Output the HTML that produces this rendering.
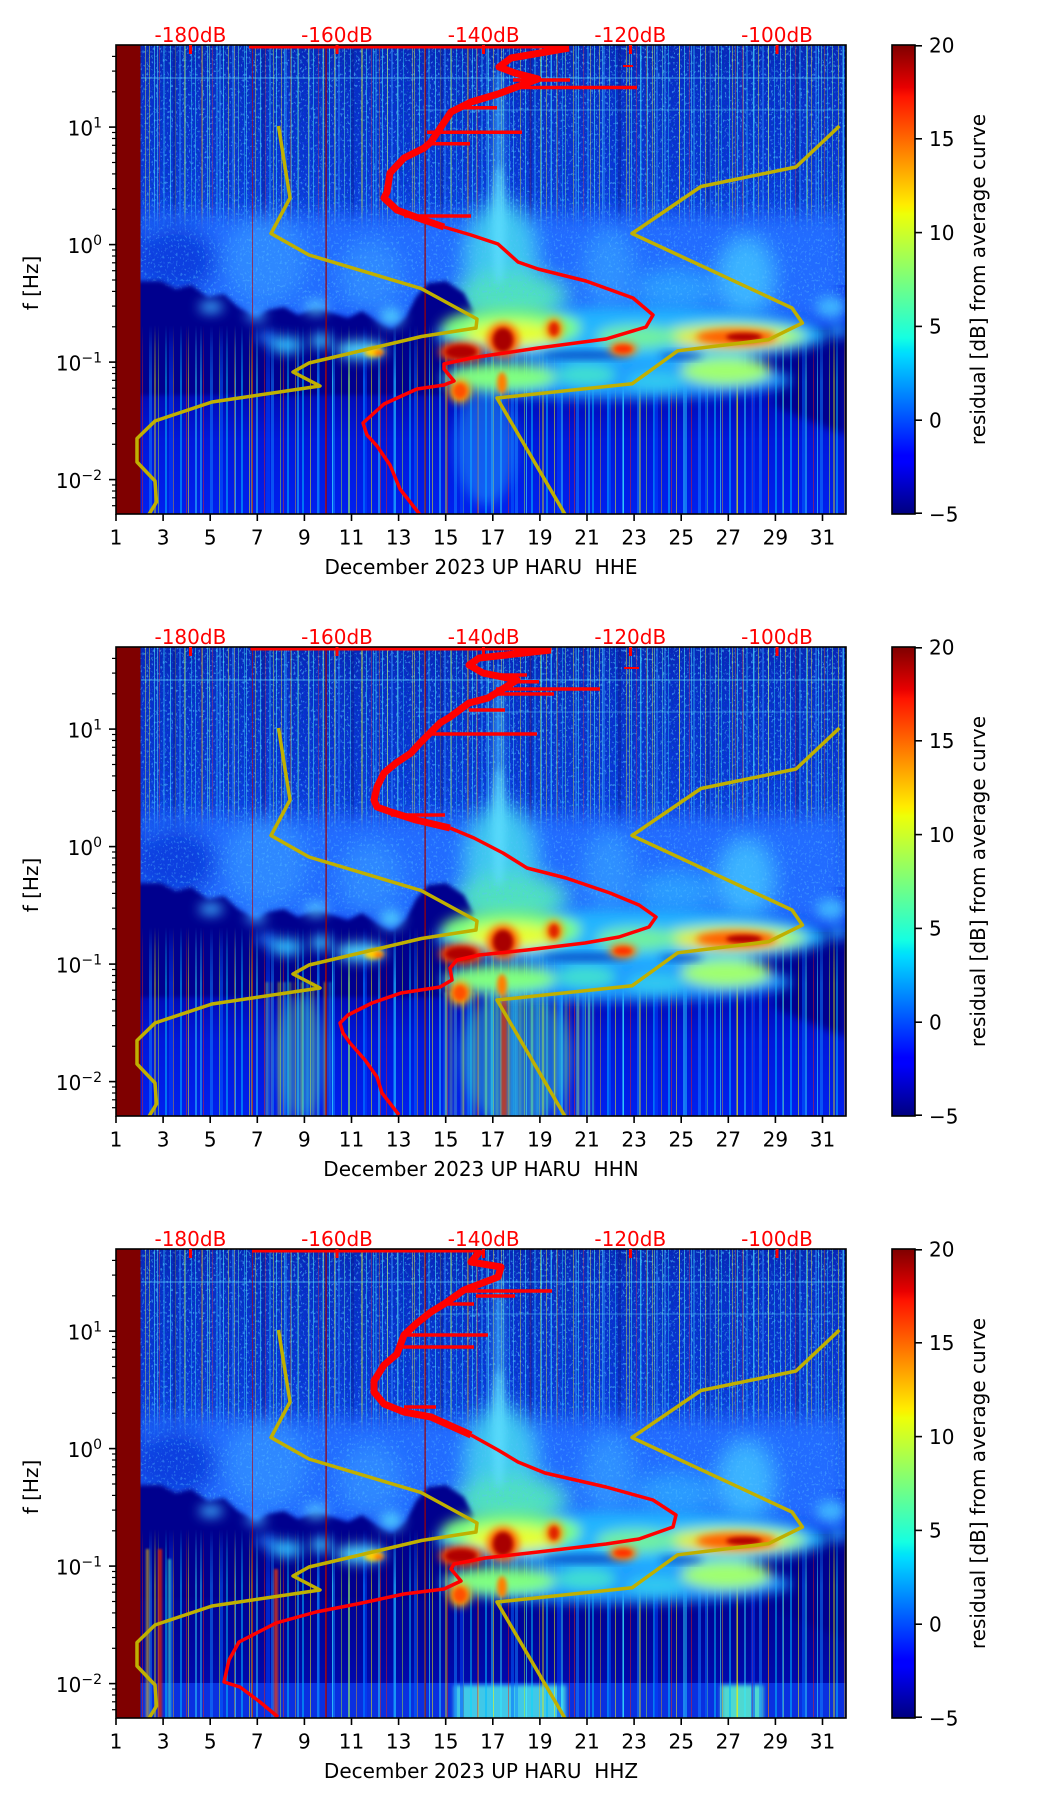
<!DOCTYPE html>
<html><head><meta charset="utf-8"><style>
html,body{margin:0;padding:0;background:#fff;}
svg{display:block;}
text{font-family:"DejaVu Sans","Liberation Sans",sans-serif;font-size:20px;}
</style></head><body>
<svg width="1052" height="1806" viewBox="0 0 1052 1806" xmlns="http://www.w3.org/2000/svg" xmlns:xlink="http://www.w3.org/1999/xlink">
<defs>
 <clipPath id="clip"><rect width="730" height="469"/></clipPath>
 <filter id="b1" x="-50%" y="-50%" width="200%" height="200%"><feGaussianBlur stdDeviation="1"/></filter>
 <filter id="b2" x="-50%" y="-50%" width="200%" height="200%"><feGaussianBlur stdDeviation="2"/></filter>
 <filter id="b4" x="-50%" y="-50%" width="200%" height="200%"><feGaussianBlur stdDeviation="4"/></filter>
 <filter id="b6" x="-50%" y="-50%" width="200%" height="200%"><feGaussianBlur stdDeviation="6"/></filter>
 <filter id="b10" x="-50%" y="-50%" width="200%" height="200%"><feGaussianBlur stdDeviation="10"/></filter>
 <filter id="noise" x="0" y="0" width="1" height="1">
  <feTurbulence type="fractalNoise" baseFrequency="0.45 0.35" numOctaves="2" seed="7" result="n"/>
  <feColorMatrix in="n" type="matrix" values="0 0 0 0 0.1  0 0 0 0 0.55  0 0 0 0 1  0 0 0 7 -4.1"/>
 </filter>
 <filter id="noiseD" x="0" y="0" width="1" height="1">
  <feTurbulence type="fractalNoise" baseFrequency="0.5 0.4" numOctaves="2" seed="11" result="n"/>
  <feColorMatrix in="n" type="matrix" values="0 0 0 0 0  0 0 0 0 0.05  0 0 0 0 0.45  0 0 0 7 -3.9"/>
 </filter>
 <linearGradient id="jet" x1="0" y1="1" x2="0" y2="0">
  <stop offset="0" stop-color="#00007f"/><stop offset="0.11" stop-color="#0000ff"/>
  <stop offset="0.125" stop-color="#0000ff"/><stop offset="0.34" stop-color="#00dbff"/>
  <stop offset="0.35" stop-color="#00e5f7"/><stop offset="0.375" stop-color="#15ffe2"/>
  <stop offset="0.5" stop-color="#7bff7b"/><stop offset="0.64" stop-color="#eeff08"/>
  <stop offset="0.65" stop-color="#f7f500"/><stop offset="0.66" stop-color="#ffec00"/>
  <stop offset="0.89" stop-color="#ff1300"/><stop offset="0.91" stop-color="#e80000"/>
  <stop offset="1" stop-color="#7f0000"/>
 </linearGradient>
 <linearGradient id="gUp" x1="0" y1="0" x2="0" y2="1">
  <stop offset="0" stop-color="#0826b8"/><stop offset="0.15" stop-color="#082ec8"/>
  <stop offset="0.5" stop-color="#0936d6"/><stop offset="0.8" stop-color="#1048e8"/>
  <stop offset="1" stop-color="#1858f8"/>
 </linearGradient>
 <linearGradient id="gLow" x1="0" y1="0" x2="0" y2="1">
  <stop offset="0" stop-color="#00008b"/><stop offset="0.3" stop-color="#0008b0"/>
  <stop offset="0.6" stop-color="#0018dc"/><stop offset="1" stop-color="#0020ee"/>
 </linearGradient>
 <linearGradient id="gLow3" x1="0" y1="0" x2="0" y2="1">
  <stop offset="0" stop-color="#00008b"/><stop offset="0.5" stop-color="#00049a"/>
  <stop offset="1" stop-color="#000cb8"/>
 </linearGradient>
 <linearGradient id="gMU" x1="0" y1="0" x2="0" y2="1">
  <stop offset="0" stop-color="#fff"/><stop offset="0.62" stop-color="#ddd"/>
  <stop offset="0.8" stop-color="#666"/><stop offset="0.92" stop-color="#222"/>
  <stop offset="1" stop-color="#000"/>
 </linearGradient>
 <linearGradient id="gML" x1="0" y1="0" x2="0" y2="1">
  <stop offset="0" stop-color="#000"/><stop offset="0.12" stop-color="#888"/>
  <stop offset="0.3" stop-color="#fff"/><stop offset="1" stop-color="#fff"/>
 </linearGradient>
 <linearGradient id="gMH" x1="0" y1="0" x2="0" y2="1">
  <stop offset="0" stop-color="#000"/><stop offset="0.35" stop-color="#fff"/>
  <stop offset="0.75" stop-color="#fff"/><stop offset="1" stop-color="#000"/>
 </linearGradient>
 <mask id="mU" maskUnits="userSpaceOnUse" x="0" y="0" width="730" height="469"><rect x="0" y="0" width="730" height="260" fill="url(#gMU)"/></mask>
 <mask id="mL" maskUnits="userSpaceOnUse" x="0" y="0" width="730" height="469"><rect x="0" y="280" width="730" height="189" fill="url(#gML)"/></mask>
 <mask id="mH" maskUnits="userSpaceOnUse" x="0" y="0" width="730" height="469"><rect x="0" y="150" width="730" height="130" fill="url(#gMH)"/></mask>
 <pattern id="pU1" patternUnits="userSpaceOnUse" width="53" height="4">
  <rect x="1" width="1" height="4" fill="#55ffff" opacity=".55"/>
  <rect x="6" width="1" height="4" fill="#eeee44" opacity=".45"/>
  <rect x="10" width="2" height="4" fill="#3399ff" opacity=".45"/>
  <rect x="16" width="1" height="4" fill="#77ffcc" opacity=".45"/>
  <rect x="22" width="1" height="4" fill="#33eeff" opacity=".4"/>
  <rect x="33" width="1" height="4" fill="#ffff22" opacity=".4"/>
  <rect x="38" width="1" height="4" fill="#55ffff" opacity=".5"/>
  <rect x="43" width="1" height="4" fill="#ff3333" opacity=".35"/>
  <rect x="47" width="2" height="4" fill="#33ccff" opacity=".35"/>
 </pattern>
 <pattern id="pU2" patternUnits="userSpaceOnUse" width="89" height="4">
  <rect x="4" width="1" height="4" fill="#99ff99" opacity=".45"/>
  <rect x="14" width="2" height="4" fill="#44ccff" opacity=".35"/>
  <rect x="29" width="1" height="4" fill="#ffff55" opacity=".4"/>
  <rect x="41" width="1" height="4" fill="#66ffff" opacity=".45"/>
  <rect x="57" width="3" height="4" fill="#0a1a90" opacity=".5"/>
  <rect x="68" width="1" height="4" fill="#ccff44" opacity=".45"/>
  <rect x="79" width="1" height="4" fill="#44ffff" opacity=".45"/>
  <rect x="85" width="1" height="4" fill="#ff7700" opacity=".35"/>
 </pattern>
 <pattern id="pL1" patternUnits="userSpaceOnUse" width="61" height="4">
  <rect x="3" width="2" height="4" fill="#00bbff" opacity=".55"/>
  <rect x="11" width="1" height="4" fill="#ffff00" opacity=".5"/>
  <rect x="18" width="2" height="4" fill="#33eeff" opacity=".45"/>
  <rect x="26" width="1" height="4" fill="#ff2200" opacity=".45"/>
  <rect x="33" width="3" height="4" fill="#1188ff" opacity=".5"/>
  <rect x="42" width="1" height="4" fill="#bbff22" opacity=".45"/>
  <rect x="49" width="2" height="4" fill="#00ddff" opacity=".45"/>
  <rect x="57" width="1" height="4" fill="#ffbb00" opacity=".4"/>
 </pattern>
 <pattern id="pL2" patternUnits="userSpaceOnUse" width="97" height="4">
  <rect x="7" width="3" height="4" fill="#0066ff" opacity=".5"/>
  <rect x="22" width="1" height="4" fill="#44ffff" opacity=".55"/>
  <rect x="38" width="2" height="4" fill="#eeee00" opacity=".4"/>
  <rect x="53" width="4" height="4" fill="#0044ff" opacity=".5"/>
  <rect x="70" width="1" height="4" fill="#ff3300" opacity=".45"/>
  <rect x="84" width="2" height="4" fill="#22ccff" opacity=".5"/>
 </pattern>
 <pattern id="pY" patternUnits="userSpaceOnUse" width="23" height="4">
  <rect x="1" width="2" height="4" fill="#ffff00" opacity=".5"/>
  <rect x="6" width="3" height="4" fill="#30e0ff" opacity=".4"/>
  <rect x="12" width="2" height="4" fill="#bbff44" opacity=".45"/>
  <rect x="17" width="1" height="4" fill="#ff9000" opacity=".4"/>
 </pattern>

 <g id="upper">
  <rect x="0" y="0" width="730" height="240" fill="url(#gUp)"/>
  <g mask="url(#mU)">
   <rect x="0" y="0" width="730" height="260" fill="#000" filter="url(#noise)" opacity=".6"/>
   <rect x="0" y="0" width="730" height="260" fill="#000" filter="url(#noiseD)" opacity=".7"/>
   <rect x="0" y="0" width="730" height="260" fill="url(#pU1)"/>
   <rect x="0" y="0" width="730" height="260" fill="url(#pU2)"/>
  </g>
  <rect x="25" y="32" width="705" height="2" fill="#60d0ff" opacity=".35"/>
  <rect x="300" y="64" width="430" height="2" fill="#60d0ff" opacity=".25"/>
  <ellipse cx="383" cy="110" rx="6" ry="90" fill="#4cc8ff" opacity=".55" filter="url(#b4)"/>
 </g>
 <g id="haze">
  <g filter="url(#b10)">
   <rect x="25" y="170" width="705" height="108" fill="#226cff"/>
   <ellipse cx="60" cy="215" rx="40" ry="35" fill="#0a40e0"/>
   <ellipse cx="150" cy="215" rx="40" ry="45" fill="#2f88ff"/>
   <ellipse cx="255" cy="230" rx="30" ry="35" fill="#2f88ff"/>
   <ellipse cx="493" cy="225" rx="25" ry="40" fill="#2f90ff"/>
   <ellipse cx="630" cy="232" rx="28" ry="40" fill="#3ab4ff"/>
   <ellipse cx="385" cy="215" rx="35" ry="60" fill="#40c8f0"/>
   <ellipse cx="395" cy="252" rx="55" ry="25" fill="#50e0c0"/>
   <ellipse cx="560" cy="245" rx="40" ry="20" fill="#2a9cff"/>
  </g>
  <g mask="url(#mH)">
   <rect x="25" y="150" width="705" height="130" fill="#000" filter="url(#noise)" opacity=".4"/>
  </g>
  <ellipse cx="383" cy="180" rx="7" ry="60" fill="#60e0ff" opacity=".7" filter="url(#b4)"/>
  <path filter="url(#b2)" fill="#00008e" d="M20,236 L45,236 L60,244 L75,240 L92,252 L108,249 L122,262 L140,272 L152,265 L168,262 L182,270 L200,263 L216,268 L232,273 L246,266 L262,277 L276,284 L290,272 L300,252 L312,238 L330,236 L348,248 L358,268 L345,288 L332,318 L330,350 L20,350 Z"/>
  <path filter="url(#b4)" fill="#00008e" d="M660,300 L700,286 L730,280 L730,390 L660,362 Z"/>
 </g>
 <g id="bands">
  <g filter="url(#b6)">
   <ellipse cx="515" cy="290" rx="195" ry="28" fill="#22b4ff"/>
   <ellipse cx="500" cy="335" rx="175" ry="19" fill="#1a9cff"/>
   <ellipse cx="395" cy="283" rx="70" ry="20" fill="#7cff80"/>
   <ellipse cx="395" cy="290" rx="45" ry="13" fill="#e6ff30"/>
   <ellipse cx="615" cy="291" rx="75" ry="13" fill="#a0ff70"/>
   <ellipse cx="615" cy="293" rx="55" ry="8" fill="#f6e020"/>
   <ellipse cx="520" cy="292" rx="40" ry="12" fill="#70f0a0"/>
   <ellipse cx="385" cy="332" rx="55" ry="14" fill="#80ff80"/>
   <ellipse cx="470" cy="330" rx="30" ry="10" fill="#40e0d0"/>
   <ellipse cx="610" cy="326" rx="45" ry="14" fill="#a0ff70"/>
   <ellipse cx="540" cy="336" rx="30" ry="10" fill="#30c8f0"/>
   <ellipse cx="170" cy="300" rx="16" ry="8" fill="#30c0ff"/>
   <ellipse cx="205" cy="296" rx="10" ry="7" fill="#40c8ff"/>
   <ellipse cx="245" cy="305" rx="25" ry="9" fill="#50d8ff"/>
   <ellipse cx="150" cy="292" rx="10" ry="5" fill="#2080ff"/>
   <ellipse cx="95" cy="262" rx="12" ry="6" fill="#40b0ff"/>
   <ellipse cx="200" cy="262" rx="12" ry="7" fill="#50c0ff"/>
   <ellipse cx="275" cy="272" rx="12" ry="9" fill="#50d0ff"/>
   <ellipse cx="140" cy="270" rx="10" ry="6" fill="#40a8ff"/>
   <ellipse cx="715" cy="262" rx="15" ry="10" fill="#40b8ff"/>
   <ellipse cx="722" cy="285" rx="10" ry="8" fill="#2090ff"/>
  </g>
  <g filter="url(#b4)" opacity=".7">
   <ellipse cx="470" cy="310" rx="45" ry="4" fill="#0020b0"/>
   <ellipse cx="565" cy="311" rx="22" ry="3" fill="#0020b0"/>
  </g>
  <g filter="url(#b4)">
   <ellipse cx="345" cy="307" rx="22" ry="10" fill="#ff5000"/>
   <ellipse cx="387" cy="295" rx="16" ry="17" fill="#ff6000"/>
   <ellipse cx="438" cy="284" rx="9" ry="11" fill="#ff9000"/>
   <ellipse cx="507" cy="304" rx="14" ry="7" fill="#ff8000"/>
   <ellipse cx="620" cy="292" rx="40" ry="8" fill="#ff6000"/>
   <ellipse cx="344" cy="346" rx="11" ry="12" fill="#ffb000"/>
  </g>
  <g filter="url(#b2)">
   <ellipse cx="345" cy="307" rx="16" ry="7" fill="#b00000"/>
   <ellipse cx="387" cy="295" rx="10" ry="12" fill="#a80000"/>
   <ellipse cx="438" cy="284" rx="5" ry="7" fill="#e02000"/>
   <ellipse cx="507" cy="304" rx="9" ry="4" fill="#ff3000"/>
   <ellipse cx="628" cy="292" rx="18" ry="4" fill="#b00000"/>
   <ellipse cx="258" cy="307" rx="10" ry="5" fill="#ffd000"/>
   <ellipse cx="263" cy="308" rx="5" ry="3" fill="#ff7000"/>
   <ellipse cx="344" cy="346" rx="7" ry="8" fill="#ff5000"/>
   <ellipse cx="386" cy="338" rx="5" ry="11" fill="#ff8000"/>
  </g>
 </g>
 <g id="ticks" stroke="#000" stroke-width="1.6">
  <line x1="-7" x2="0" y1="82.1" y2="82.1"/><line x1="-7" x2="0" y1="199.6" y2="199.6"/>
  <line x1="-7" x2="0" y1="317.1" y2="317.1"/><line x1="-7" x2="0" y1="434.6" y2="434.6"/>
  <g stroke-width="1.2">
  <line x1="-4" x2="0" y1="11.4" y2="11.4"/><line x1="-4" x2="0" y1="26.1" y2="26.1"/><line x1="-4" x2="0" y1="46.8" y2="46.8"/>
  <line x1="-4" x2="0" y1="87.5" y2="87.5"/><line x1="-4" x2="0" y1="93.5" y2="93.5"/><line x1="-4" x2="0" y1="100.3" y2="100.3"/>
  <line x1="-4" x2="0" y1="108.2" y2="108.2"/><line x1="-4" x2="0" y1="117.5" y2="117.5"/><line x1="-4" x2="0" y1="128.9" y2="128.9"/>
  <line x1="-4" x2="0" y1="143.6" y2="143.6"/><line x1="-4" x2="0" y1="164.3" y2="164.3"/>
  <line x1="-4" x2="0" y1="205" y2="205"/><line x1="-4" x2="0" y1="211" y2="211"/><line x1="-4" x2="0" y1="217.8" y2="217.8"/>
  <line x1="-4" x2="0" y1="225.7" y2="225.7"/><line x1="-4" x2="0" y1="235" y2="235"/><line x1="-4" x2="0" y1="246.4" y2="246.4"/>
  <line x1="-4" x2="0" y1="261.1" y2="261.1"/><line x1="-4" x2="0" y1="281.8" y2="281.8"/>
  <line x1="-4" x2="0" y1="322.5" y2="322.5"/><line x1="-4" x2="0" y1="328.5" y2="328.5"/><line x1="-4" x2="0" y1="335.3" y2="335.3"/>
  <line x1="-4" x2="0" y1="343.2" y2="343.2"/><line x1="-4" x2="0" y1="352.5" y2="352.5"/><line x1="-4" x2="0" y1="363.9" y2="363.9"/>
  <line x1="-4" x2="0" y1="378.6" y2="378.6"/><line x1="-4" x2="0" y1="399.3" y2="399.3"/>
  <line x1="-4" x2="0" y1="440" y2="440"/><line x1="-4" x2="0" y1="446" y2="446"/><line x1="-4" x2="0" y1="452.8" y2="452.8"/>
  <line x1="-4" x2="0" y1="460.7" y2="460.7"/>
  </g>
  <line x1="0" x2="0" y1="469" y2="476"/><line x1="47.1" x2="47.1" y1="469" y2="476"/>
  <line x1="94.2" x2="94.2" y1="469" y2="476"/><line x1="141.3" x2="141.3" y1="469" y2="476"/>
  <line x1="188.4" x2="188.4" y1="469" y2="476"/><line x1="235.5" x2="235.5" y1="469" y2="476"/>
  <line x1="282.6" x2="282.6" y1="469" y2="476"/><line x1="329.7" x2="329.7" y1="469" y2="476"/>
  <line x1="376.8" x2="376.8" y1="469" y2="476"/><line x1="423.9" x2="423.9" y1="469" y2="476"/>
  <line x1="471" x2="471" y1="469" y2="476"/><line x1="518.1" x2="518.1" y1="469" y2="476"/>
  <line x1="565.2" x2="565.2" y1="469" y2="476"/><line x1="612.3" x2="612.3" y1="469" y2="476"/>
  <line x1="659.4" x2="659.4" y1="469" y2="476"/><line x1="706.5" x2="706.5" y1="469" y2="476"/>
  <line x1="799" x2="806" y1="0.8" y2="0.8"/><line x1="799" x2="806" y1="93.8" y2="93.8"/>
  <line x1="799" x2="806" y1="187.6" y2="187.6"/><line x1="799" x2="806" y1="281.4" y2="281.4"/>
  <line x1="799" x2="806" y1="375.2" y2="375.2"/><line x1="799" x2="806" y1="468.2" y2="468.2"/>
 </g>
 <g id="frame">
  <rect x="0" y="0" width="730" height="469" fill="none" stroke="#000" stroke-width="1.6"/>
  <rect x="776" y="0" width="23" height="469" fill="url(#jet)" stroke="#000" stroke-width="1.6"/>
  <g fill="#ff0000">
   <rect x="73" y="0" width="3" height="9"/><rect x="219.5" y="0" width="3" height="9"/>
   <rect x="366" y="0" width="3" height="9"/><rect x="513" y="0" width="3" height="9"/>
   <rect x="659.5" y="0" width="3" height="9"/>
  </g>
 </g>
 <g id="yel" fill="none" stroke="#c0b000" stroke-width="3.5" stroke-linejoin="round">
  <polyline points="162.5,81 174,153 155,188.5 193,210 305,243.5 361,274 360,283 305.5,291.5 193,318 177,327 204,341 96,357 39,376 21,393.5 21,417 39,436 40.5,457 32,471"/>
  <polyline points="723.5,81 680,122 585,141.5 516,188.5 676,263 686.4,278 652.7,294.6 561.7,305.8 516,338.8 381,353 450,471"/>
 </g>
 <g id="strip">
  <rect x="0" y="0" width="24.5" height="469" fill="#7f0000"/>
  <rect x="209.5" y="0" width="1.2" height="469" fill="#a00000"/>
  <rect x="308.5" y="0" width="1.2" height="469" fill="#a00000"/>
  <rect x="136" y="0" width="1" height="469" fill="#c00000" opacity=".6"/>
 </g>
</defs>

<!-- ================= PANEL 1 ================= -->
<g transform="translate(116,45)">
 <g clip-path="url(#clip)">
  <rect width="730" height="469" fill="#0014e0"/>
  <rect x="0" y="285" width="730" height="184" fill="url(#gLow)"/>
  <use xlink:href="#upper"/>
  <use xlink:href="#haze"/>
  <g mask="url(#mL)">
   <rect x="0" y="280" width="730" height="189" fill="url(#pL1)"/>
   <rect x="0" y="280" width="730" height="189" fill="url(#pL2)"/>
  </g>
  <ellipse cx="370" cy="400" rx="30" ry="60" fill="#20a0ff" opacity=".5" filter="url(#b6)"/>
  <use xlink:href="#bands"/>
  <use xlink:href="#strip"/>
  <use xlink:href="#yel"/>
  <g fill="none" stroke="#ff0000" stroke-linejoin="round" stroke-linecap="butt">
   <line x1="133" y1="2" x2="453" y2="2" stroke-width="3"/>
   <polyline stroke-width="7" points="453,3 395,13 383,22 399,28 422,34 382,49 355,57 335,67 325,82 315,97 308,103 288,113 274,128 271,147 268,153 281,165 305,174 328,182"/>
   <polyline stroke-width="3.5" points="328,182 355,190 382,199 402,217 422,224 470,236 517,253 537,270 530,282 490,294 422,303 355,313 328,319 328,324 338,336 328,340 301,344 268,359 247,378 251,390 261,401 274,420 284,444 305,471"/>
   <g stroke-width="3.5">
    <line x1="397" y1="35" x2="454" y2="35"/><line x1="404" y1="42.5" x2="521" y2="42.5"/>
    <line x1="341" y1="62.7" x2="381" y2="62.7"/><line x1="311" y1="87.3" x2="406" y2="87.3"/>
    <line x1="311" y1="98.7" x2="354" y2="98.7"/><line x1="288" y1="171" x2="355" y2="171"/>
    <line x1="507" y1="21" x2="517" y2="21" stroke-width="2"/>
   </g>
  </g>
 </g>
 <use xlink:href="#frame"/>
 <use xlink:href="#ticks"/>
 <g fill="#ff0000" text-anchor="middle">
  <text x="74.4" y="-3">-180dB</text><text x="221" y="-3">-160dB</text><text x="367.7" y="-3">-140dB</text>
  <text x="514.3" y="-3">-120dB</text><text x="661" y="-3">-100dB</text>
 </g>
 <g text-anchor="end">
  <text x="-14" y="90.6">10<tspan dy="-8" font-size="14">1</tspan></text>
  <text x="-14" y="208.1">10<tspan dy="-8" font-size="14">0</tspan></text>
  <text x="-14" y="325.6">10<tspan dy="-8" font-size="14">−1</tspan></text>
  <text x="-14" y="443.1">10<tspan dy="-8" font-size="14">−2</tspan></text>
 </g>
 <g text-anchor="middle">
  <text x="0" y="499.5">1</text><text x="47.1" y="499.5">3</text><text x="94.2" y="499.5">5</text>
  <text x="141.3" y="499.5">7</text><text x="188.4" y="499.5">9</text><text x="235.5" y="499.5">11</text>
  <text x="282.6" y="499.5">13</text><text x="329.7" y="499.5">15</text><text x="376.8" y="499.5">17</text>
  <text x="423.9" y="499.5">19</text><text x="471" y="499.5">21</text><text x="518.1" y="499.5">23</text>
  <text x="565.2" y="499.5">25</text><text x="612.3" y="499.5">27</text><text x="659.4" y="499.5">29</text>
  <text x="706.5" y="499.5">31</text>
  <text x="365" y="529" xml:space="preserve">December 2023 UP HARU  HHE</text>
  <text transform="translate(-78,238) rotate(-90)">f [Hz]</text>
  <text transform="translate(869,234.5) rotate(-90)">residual [dB] from average curve</text>
 </g>
 <g>
  <text x="813" y="7.3">20</text><text x="813" y="101.1">15</text><text x="813" y="194.9">10</text>
  <text x="813" y="288.7">5</text><text x="813" y="382.5">0</text><text x="813" y="476.3">−5</text>
 </g>
</g>

<!-- ================= PANEL 2 ================= -->
<g transform="translate(116,647)">
 <g clip-path="url(#clip)">
  <rect width="730" height="469" fill="#0014e0"/>
  <rect x="0" y="285" width="730" height="184" fill="url(#gLow)"/>
  <use xlink:href="#upper"/>
  <use xlink:href="#haze"/>
  <g mask="url(#mL)">
   <rect x="0" y="280" width="730" height="189" fill="url(#pL1)"/>
   <rect x="0" y="280" width="730" height="189" fill="url(#pL2)"/>
   <g filter="url(#b1)">
    <rect x="150" y="335" width="65" height="134" fill="url(#pY)"/>
    <rect x="325" y="345" width="155" height="124" fill="url(#pY)"/>
   </g>
  </g>
  <ellipse cx="400" cy="410" rx="55" ry="70" fill="#40d8c0" opacity=".4" filter="url(#b6)"/>
  <ellipse cx="185" cy="410" rx="25" ry="60" fill="#50e0b0" opacity=".3" filter="url(#b6)"/>
  <rect x="385" y="330" width="6" height="139" fill="#e03000" opacity=".75" filter="url(#b1)"/>
  <use xlink:href="#bands"/>
  <use xlink:href="#strip"/>
  <use xlink:href="#yel"/>
  <g fill="none" stroke="#ff0000" stroke-linejoin="round">
   <line x1="134.5" y1="2" x2="435.5" y2="2" stroke-width="3"/>
   <polyline stroke-width="7" points="435,3 363,11 353,18 367,26 401,33 372,51 353,56 334,70 324,76 314,86 304,96 295,106 280,116 268,126 261,140 258,153 261,160 275,165 300,173 334,181"/>
   <polyline stroke-width="3.5" points="334,181 358,191 387,206 411,221 450,231 494,246 523,258 540,270 533,280 503,290 469,296 411,303 363,308 341,313 334,321 336,333 324,340 285,346 256,356 232,368 224,376 227,386 234,396 249,413 261,430 266,446 283,468"/>
   <g stroke-width="3.5">
    <line x1="367" y1="28" x2="411" y2="28"/><line x1="401" y1="34.7" x2="423" y2="34.7"/>
    <line x1="380" y1="42" x2="484" y2="42"/><line x1="380" y1="47" x2="438" y2="47"/>
    <line x1="353" y1="63" x2="389" y2="63"/><line x1="314" y1="87" x2="421" y2="87"/>
    <line x1="275" y1="168" x2="329" y2="168"/>
    <line x1="508" y1="21" x2="523" y2="21" stroke-width="2"/>
   </g>
  </g>
 </g>
 <use xlink:href="#frame"/>
 <use xlink:href="#ticks"/>
 <g fill="#ff0000" text-anchor="middle">
  <text x="74.4" y="-3">-180dB</text><text x="221" y="-3">-160dB</text><text x="367.7" y="-3">-140dB</text>
  <text x="514.3" y="-3">-120dB</text><text x="661" y="-3">-100dB</text>
 </g>
 <g text-anchor="end">
  <text x="-14" y="90.6">10<tspan dy="-8" font-size="14">1</tspan></text>
  <text x="-14" y="208.1">10<tspan dy="-8" font-size="14">0</tspan></text>
  <text x="-14" y="325.6">10<tspan dy="-8" font-size="14">−1</tspan></text>
  <text x="-14" y="443.1">10<tspan dy="-8" font-size="14">−2</tspan></text>
 </g>
 <g text-anchor="middle">
  <text x="0" y="499.5">1</text><text x="47.1" y="499.5">3</text><text x="94.2" y="499.5">5</text>
  <text x="141.3" y="499.5">7</text><text x="188.4" y="499.5">9</text><text x="235.5" y="499.5">11</text>
  <text x="282.6" y="499.5">13</text><text x="329.7" y="499.5">15</text><text x="376.8" y="499.5">17</text>
  <text x="423.9" y="499.5">19</text><text x="471" y="499.5">21</text><text x="518.1" y="499.5">23</text>
  <text x="565.2" y="499.5">25</text><text x="612.3" y="499.5">27</text><text x="659.4" y="499.5">29</text>
  <text x="706.5" y="499.5">31</text>
  <text x="365" y="529" xml:space="preserve">December 2023 UP HARU  HHN</text>
  <text transform="translate(-78,238) rotate(-90)">f [Hz]</text>
  <text transform="translate(869,234.5) rotate(-90)">residual [dB] from average curve</text>
 </g>
 <g>
  <text x="813" y="7.3">20</text><text x="813" y="101.1">15</text><text x="813" y="194.9">10</text>
  <text x="813" y="288.7">5</text><text x="813" y="382.5">0</text><text x="813" y="476.3">−5</text>
 </g>
</g>

<!-- ================= PANEL 3 ================= -->
<g transform="translate(116,1249)">
 <g clip-path="url(#clip)">
  <rect width="730" height="469" fill="#0014e0"/>
  <rect x="0" y="285" width="730" height="184" fill="url(#gLow3)"/>
  <rect x="0" y="434" width="730" height="35" fill="#0a30e0"/>
  <g filter="url(#b2)">
   <rect x="338" y="436" width="112" height="40" fill="#40c8e8"/>
   <rect x="605" y="436" width="42" height="40" fill="#50d8d0"/>
  </g>
  <use xlink:href="#upper"/>
  <use xlink:href="#haze"/>
  <g mask="url(#mL)">
   <rect x="0" y="280" width="730" height="189" fill="url(#pL1)"/>
   <rect x="0" y="280" width="730" height="189" fill="url(#pL2)"/>
  </g>
  <g filter="url(#b1)">
   <rect x="42" y="300" width="4" height="169" fill="#e02000" opacity=".8"/>
   <rect x="30" y="300" width="3" height="169" fill="#ffd000" opacity=".6"/>
   <rect x="52" y="310" width="3" height="159" fill="#40ffc0" opacity=".6"/>
   <rect x="158" y="320" width="4" height="149" fill="#ff4000" opacity=".7"/>
  </g>
  <use xlink:href="#bands"/>
  <use xlink:href="#strip"/>
  <use xlink:href="#yel"/>
  <g fill="none" stroke="#ff0000" stroke-linejoin="round">
   <line x1="136" y1="2" x2="365" y2="2" stroke-width="3"/>
   <polyline stroke-width="7" points="365,1 355,13 385,18 382,28 348,41 328,55 315,63 301,74 288,86 281,105 268,116 258,132 258,143 268,155 288,163 315,168 355,186"/>
   <polyline stroke-width="3.5" points="355,186 382,201 402,213 429,224 490,238 537,251 560,266 557,278 523,290 490,295 422,303 369,309 338,315 335,320 345,332 328,340 288,345 241,355 200,363 160,374 123,393 113,411 108,433 124,438 144,453 162,468"/>
   <g stroke-width="3.5">
    <line x1="348" y1="42" x2="436" y2="42"/><line x1="360" y1="47" x2="399" y2="47"/>
    <line x1="328" y1="55" x2="358" y2="55"/><line x1="288" y1="86" x2="372" y2="86"/>
    <line x1="281" y1="98" x2="358" y2="98"/><line x1="288" y1="158" x2="320" y2="158"/>
   </g>
  </g>
 </g>
 <use xlink:href="#frame"/>
 <use xlink:href="#ticks"/>
 <g fill="#ff0000" text-anchor="middle">
  <text x="74.4" y="-3">-180dB</text><text x="221" y="-3">-160dB</text><text x="367.7" y="-3">-140dB</text>
  <text x="514.3" y="-3">-120dB</text><text x="661" y="-3">-100dB</text>
 </g>
 <g text-anchor="end">
  <text x="-14" y="90.6">10<tspan dy="-8" font-size="14">1</tspan></text>
  <text x="-14" y="208.1">10<tspan dy="-8" font-size="14">0</tspan></text>
  <text x="-14" y="325.6">10<tspan dy="-8" font-size="14">−1</tspan></text>
  <text x="-14" y="443.1">10<tspan dy="-8" font-size="14">−2</tspan></text>
 </g>
 <g text-anchor="middle">
  <text x="0" y="499.5">1</text><text x="47.1" y="499.5">3</text><text x="94.2" y="499.5">5</text>
  <text x="141.3" y="499.5">7</text><text x="188.4" y="499.5">9</text><text x="235.5" y="499.5">11</text>
  <text x="282.6" y="499.5">13</text><text x="329.7" y="499.5">15</text><text x="376.8" y="499.5">17</text>
  <text x="423.9" y="499.5">19</text><text x="471" y="499.5">21</text><text x="518.1" y="499.5">23</text>
  <text x="565.2" y="499.5">25</text><text x="612.3" y="499.5">27</text><text x="659.4" y="499.5">29</text>
  <text x="706.5" y="499.5">31</text>
  <text x="365" y="529" xml:space="preserve">December 2023 UP HARU  HHZ</text>
  <text transform="translate(-78,238) rotate(-90)">f [Hz]</text>
  <text transform="translate(869,234.5) rotate(-90)">residual [dB] from average curve</text>
 </g>
 <g>
  <text x="813" y="7.3">20</text><text x="813" y="101.1">15</text><text x="813" y="194.9">10</text>
  <text x="813" y="288.7">5</text><text x="813" y="382.5">0</text><text x="813" y="476.3">−5</text>
 </g>
</g>
</svg>
</body></html>
